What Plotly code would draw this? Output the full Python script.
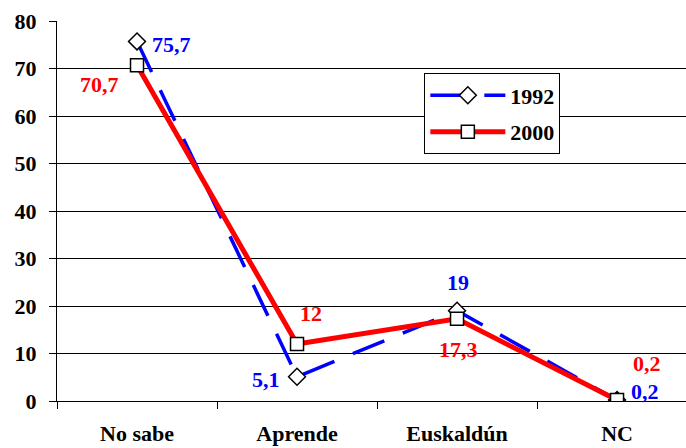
import plotly.graph_objects as go

categories = ["No sabe", "Aprende", "Euskaldún", "NC"]
values_1992 = [75.7, 5.1, 19, 0.2]
values_2000 = [70.7, 12, 17.3, 0.2]
labels_1992 = ["75,7", "5,1", "19", "0,2"]
labels_2000 = ["70,7", "12", "17,3", "0,2"]
y_ticks = [0, 10, 20, 30, 40, 50, 60, 70, 80]

FONT = "Liberation Serif"
BLUE = "#0000ff"
RED = "#ff0000"

fig = go.Figure()
fig.add_trace(go.Scatter(
    x=categories, y=values_1992, name="1992", mode="lines+markers",
    legendgroup="a",
    line=dict(color=BLUE, width=3.5, dash="34px,20px"),
    marker=dict(symbol="diamond", size=13, color="white",
                line=dict(color="black", width=1.5)),
))
fig.add_trace(go.Scatter(
    x=categories, y=values_2000, name="2000", mode="lines+markers",
    legendgroup="b",
    line=dict(color=RED, width=5),
    marker=dict(symbol="square", size=13, color="white",
                line=dict(color="black", width=1.5)),
))

shifts_1992 = [(34, -3), (-31, -3), (1, 28), (28, 9)]
shifts_2000 = [(-38, -19), (14, 31), (1, -31), (30, 37)]
for cat, v, t, (dx, dy) in zip(categories, values_1992, labels_1992, shifts_1992):
    fig.add_annotation(x=cat, y=v, text="<b>%s</b>" % t, showarrow=False,
                       xshift=dx, yshift=dy,
                       font=dict(family=FONT, size=22, color=BLUE))
for cat, v, t, (dx, dy) in zip(categories, values_2000, labels_2000, shifts_2000):
    fig.add_annotation(x=cat, y=v, text="<b>%s</b>" % t, showarrow=False,
                       xshift=dx, yshift=dy,
                       font=dict(family=FONT, size=22, color=RED))

fig.update_layout(
    width=686, height=448,
    margin=dict(l=57, r=0, t=21, b=47, autoexpand=False),
    paper_bgcolor="white", plot_bgcolor="white",
    font=dict(family=FONT, size=18, color="black"),
    showlegend=True,
    legend=dict(x=0.584, y=0.862, xanchor="left", yanchor="top",
                bordercolor="black", borderwidth=1, bgcolor="white",
                font=dict(family=FONT, size=22, color="black", weight="bold"),
                itemwidth=75, tracegroupgap=5),
    xaxis=dict(
        type="category", range=[-0.5, 3.431], automargin=False,
        showline=True, linecolor="black", linewidth=1,
        ticks="outside", tickson="boundaries", ticklen=7, tickcolor="black",
        showgrid=False, tickfont=dict(family=FONT, size=22, weight="bold"),
        ticklabelstandoff=13,
    ),
    yaxis=dict(
        range=[0, 80], tickvals=y_ticks, automargin=False,
        showline=True, linecolor="black", linewidth=1,
        ticks="outside", ticklen=7, tickcolor="black",
        showgrid=True, gridcolor="black", gridwidth=1,
        zeroline=False,
        tickfont=dict(family=FONT, size=22, weight="bold"),
        ticklabelstandoff=8,
    ),
)

fig.write_html("out.html", config={"displayModeBar": False})
with open("out.html", encoding="utf-8") as fh:
    html = fh.read()
html = html.replace("<body>", '<body style="margin:0">', 1)
with open("out.html", "w", encoding="utf-8") as fh:
    fh.write(html)
